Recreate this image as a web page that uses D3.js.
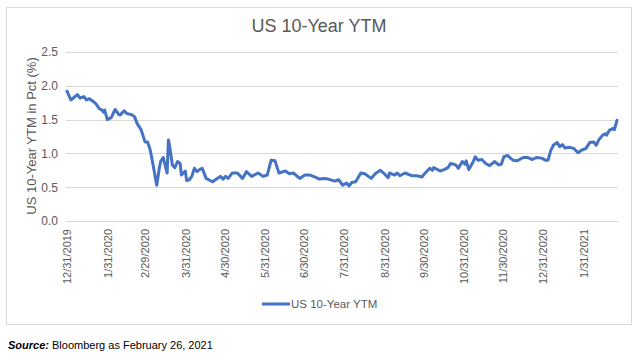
<!DOCTYPE html>
<html>
<head>
<meta charset="utf-8">
<script src="https://cdn.jsdelivr.net/npm/d3@7"></script>
<style>
  body { margin: 0; background: #fff; }
  text { font-family: "Liberation Sans", Arial, sans-serif; }
</style>
</head>
<body>
<script>
// weekly-ish readings of the US 10-year yield
var dates = [
  "2019-12-31","2020-01-03","2020-01-08","2020-01-10","2020-01-13","2020-01-15","2020-01-17","2020-01-20",
  "2020-01-22","2020-01-25","2020-01-27","2020-01-28","2020-01-29","2020-01-31","2020-02-03","2020-02-06",
  "2020-02-09","2020-02-10","2020-02-13","2020-02-15","2020-02-19","2020-02-21","2020-02-23","2020-02-26",
  "2020-02-29","2020-03-02","2020-03-04","2020-03-06","2020-03-09","2020-03-11","2020-03-12","2020-03-14",
  "2020-03-15","2020-03-17","2020-03-18","2020-03-19","2020-03-21","2020-03-23","2020-03-25","2020-03-27",
  "2020-03-28","2020-03-31","2020-04-01","2020-04-03","2020-04-05","2020-04-07","2020-04-09","2020-04-11",
  "2020-04-13","2020-04-16","2020-04-21","2020-04-24","2020-04-27","2020-04-29","2020-05-01","2020-05-03",
  "2020-05-06","2020-05-10","2020-05-14","2020-05-17","2020-05-21","2020-05-26","2020-05-30","2020-06-02",
  "2020-06-05","2020-06-08","2020-06-11","2020-06-16","2020-06-19","2020-06-22","2020-06-27","2020-07-01",
  "2020-07-05","2020-07-09","2020-07-12","2020-07-16","2020-07-19","2020-07-24","2020-07-27","2020-07-30",
  "2020-08-02","2020-08-04","2020-08-06","2020-08-09","2020-08-13","2020-08-16","2020-08-21","2020-08-24",
  "2020-08-28","2020-08-31","2020-09-03","2020-09-04","2020-09-08","2020-09-10","2020-09-12","2020-09-16",
  "2020-09-21","2020-09-25","2020-09-29","2020-10-01","2020-10-05","2020-10-07","2020-10-08","2020-10-13",
  "2020-10-16","2020-10-19","2020-10-21","2020-10-25","2020-10-27","2020-10-30","2020-11-01","2020-11-02",
  "2020-11-04","2020-11-07","2020-11-09","2020-11-11","2020-11-14","2020-11-17","2020-11-20","2020-11-24",
  "2020-11-27","2020-11-29","2020-12-01","2020-12-04","2020-12-06","2020-12-08","2020-12-11","2020-12-16",
  "2020-12-19","2020-12-23","2020-12-26","2020-12-30","2021-01-02","2021-01-04","2021-01-06","2021-01-08",
  "2021-01-11","2021-01-13","2021-01-15","2021-01-17","2021-01-21","2021-01-24","2021-01-27","2021-01-30",
  "2021-02-02","2021-02-05","2021-02-08","2021-02-10","2021-02-12","2021-02-15","2021-02-17","2021-02-18",
  "2021-02-20","2021-02-23","2021-02-24","2021-02-26"
];
var ytm = [
  1.92,1.79,1.87,1.82,1.84,1.79,1.81,1.77,
  1.74,1.66,1.64,1.61,1.64,1.50,1.53,1.65,
  1.57,1.57,1.63,1.59,1.57,1.54,1.44,1.35,
  1.17,1.17,1.05,0.85,0.53,0.78,0.88,0.94,
  0.86,0.71,1.20,1.10,0.83,0.79,0.88,0.85,
  0.68,0.74,0.60,0.61,0.66,0.78,0.73,0.76,
  0.78,0.63,0.58,0.62,0.66,0.62,0.66,0.63,
  0.71,0.71,0.63,0.73,0.66,0.71,0.66,0.68,
  0.90,0.89,0.71,0.74,0.70,0.71,0.63,0.68,
  0.68,0.65,0.62,0.63,0.62,0.59,0.61,0.53,
  0.56,0.52,0.57,0.58,0.71,0.70,0.63,0.70,
  0.75,0.70,0.64,0.71,0.68,0.71,0.67,0.71,
  0.67,0.67,0.65,0.70,0.78,0.75,0.79,0.74,
  0.76,0.79,0.85,0.83,0.78,0.88,0.84,0.89,
  0.76,0.86,0.95,0.90,0.91,0.85,0.82,0.88,
  0.83,0.84,0.95,0.97,0.93,0.90,0.89,0.94,
  0.94,0.91,0.94,0.93,0.90,0.90,1.04,1.12,
  1.16,1.10,1.13,1.08,1.09,1.07,1.01,1.05,
  1.07,1.16,1.17,1.12,1.20,1.27,1.29,1.27,
  1.34,1.37,1.35,1.49
];
var tickDates = [
  "2019-12-31","2020-01-31","2020-02-29","2020-03-31","2020-04-30","2020-05-31","2020-06-30",
  "2020-07-31","2020-08-31","2020-09-30","2020-10-31","2020-11-30","2020-12-31","2021-01-31"
];
var tickLabels = [
  "12/31/2019","1/31/2020","2/29/2020","3/31/2020","4/30/2020","5/31/2020","6/30/2020",
  "7/31/2020","8/31/2020","9/30/2020","10/31/2020","11/30/2020","12/31/2020","1/31/2021"
];
var yTicks = [0, 0.5, 1.0, 1.5, 2.0, 2.5];

var parse = d3.timeParse("%Y-%m-%d");
var points = dates.map(function(d, i) { return { date: parse(d), value: ytm[i] }; });

var svg = d3.select("body").append("svg")
    .attr("width", 636)
    .attr("height", 360);

svg.append("rect")
    .attr("x", 6.5).attr("y", 7.5)
    .attr("width", 625).attr("height", 317)
    .attr("fill", "#fff")
    .attr("stroke", "#d9d9d9");

var x = d3.scaleTime()
    .domain([parse("2019-12-31"), parse("2021-02-26")])
    .range([67, 617]);

var y = d3.scaleLinear()
    .domain([0, 2.5])
    .range([221, 52]);

// gridlines
svg.append("g")
    .selectAll("line")
    .data(yTicks)
    .enter()
        .append("line")
        .attr("x1", 66).attr("x2", 618)
        .attr("y1", function(d) { return Math.round(y(d)) + 0.5; })
        .attr("y2", function(d) { return Math.round(y(d)) + 0.5; })
        .attr("stroke", "#d9d9d9")
        .attr("stroke-width", 1);

// y axis labels
var yAxis = d3.axisLeft(y)
    .tickValues(yTicks)
    .tickFormat(d3.format(".1f"))
    .tickSize(0)
    .tickPadding(0);
var gy = svg.append("g")
    .attr("transform", "translate(58,0)")
    .call(yAxis);
gy.select(".domain").remove();
gy.selectAll("text")
    .attr("fill", "#595959")
    .style("font-size", "12px");

// x axis labels, rotated
var xAxis = d3.axisBottom(x)
    .tickValues(tickDates.map(parse))
    .tickFormat(function(d, i) { return tickLabels[i]; })
    .tickSize(0);
var gx = svg.append("g")
    .attr("transform", "translate(0,221)")
    .call(xAxis);
gx.select(".domain").remove();
gx.selectAll("text")
    .attr("fill", "#595959")
    .style("font-size", "11px")
    .attr("text-anchor", "end")
    .attr("transform", "rotate(-90)")
    .attr("x", -8)
    .attr("y", 0)
    .attr("dy", "0.35em");

// the line
var line = d3.line()
    .x(function(d) { return x(d.date); })
    .y(function(d) { return y(d.value); });

svg.append("path")
    .datum(points)
    .attr("d", line)
    .attr("fill", "none")
    .attr("stroke", "#4472c4")
    .attr("stroke-width", 3)
    .attr("stroke-linejoin", "round")
    .attr("stroke-linecap", "round");

// title
svg.append("text")
    .attr("x", 319).attr("y", 32)
    .attr("text-anchor", "middle")
    .attr("fill", "#595959")
    .style("font-size", "18px")
    .text("US 10-Year YTM");

// y axis title
svg.append("text")
    .attr("transform", "translate(36,136) rotate(-90)")
    .attr("text-anchor", "middle")
    .attr("fill", "#595959")
    .style("font-size", "13px")
    .text("US 10-Year YTM in Pct (%)");

// legend
svg.append("line")
    .attr("x1", 262).attr("x2", 290)
    .attr("y1", 304).attr("y2", 304)
    .attr("stroke", "#4472c4")
    .attr("stroke-width", 3);
svg.append("text")
    .attr("x", 291).attr("y", 308)
    .attr("fill", "#595959")
    .style("font-size", "11.5px")
    .text("US 10-Year YTM");

// source note
var src = svg.append("text")
    .attr("x", 8).attr("y", 349)
    .attr("fill", "#000")
    .style("font-size", "11px");
src.append("tspan")
    .style("font-weight", "bold")
    .style("font-style", "italic")
    .text("Source:");
src.append("tspan")
    .text(" Bloomberg as February 26, 2021");
</script>
</body>
</html>
